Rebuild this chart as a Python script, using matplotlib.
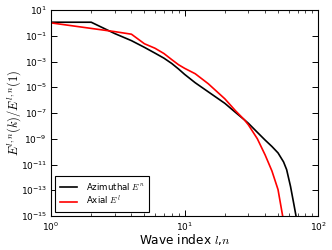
import numpy as np
import matplotlib
matplotlib.use("Agg")
from matplotlib import pyplot as plt
from matplotlib import ticker

# wave index and log10 of normalised energy
l_azi = [1, 2, 3, 4, 5, 6, 7, 8, 9, 10, 12, 15, 20, 24, 28, 30, 35, 40, 45, 50, 55, 58, 62, 66, 69]
log_azi = [0.05, 0.05, -0.83, -1.38, -1.9, -2.35, -2.74, -3.15, -3.58, -4.0, -4.65, -5.35, -6.25,
           -6.95, -7.53, -7.8, -8.5, -9.1, -9.6, -10.1, -10.8, -11.4, -12.7, -14.2, -15.3]

l_axi = [1, 2, 3, 4, 5, 6, 7, 8, 9, 10, 12, 15, 20, 24, 28, 30, 35, 40, 45, 50, 55]
log_axi = [0.0, -0.43, -0.68, -0.88, -1.62, -1.97, -2.38, -2.85, -3.25, -3.53, -3.95, -4.72,
           -5.9, -6.82, -7.53, -7.92, -9.0, -10.25, -11.5, -12.95, -15.4]

plt.rcParams['font.family'] = ['DejaVu Sans']
plt.rcParams['xtick.direction'] = 'in'
plt.rcParams['ytick.direction'] = 'in'
plt.rcParams['xtick.top'] = True
plt.rcParams['ytick.right'] = True

fig = plt.figure(figsize=(3.32, 2.5), dpi=100)
ax = fig.add_axes([0.1536, 0.136, 0.805, 0.824])

ax.plot(l_azi, 10.0 ** np.array(log_azi), color='k', lw=1.2, label=r'Azimuthal $E^n$')
ax.plot(l_axi, 10.0 ** np.array(log_axi), color='r', lw=1.2, label=r'Axial $E^l$')

ax.set_xscale('log')
ax.set_yscale('log')
ax.set_xlim(1, 100)
ax.set_ylim(1e-15, 1e1)
ax.set_yticks([10.0 ** k for k in range(1, -16, -2)])
ax.yaxis.set_minor_locator(ticker.NullLocator())
ax.tick_params(labelsize=6.5, length=4, width=0.7, pad=3)
ax.tick_params(which='minor', length=2, width=0.5)

xl = ax.set_xlabel(r'Wave index $l$,$n$', fontsize=8.7, labelpad=-0.3)
yl = ax.set_ylabel(r'$E^{l,n}(k)/E^{l,n}(1)$', fontsize=9, labelpad=-2)
xl.set_math_fontfamily('cm')
yl.set_math_fontfamily('cm')

leg = ax.legend(loc='lower left', fontsize=6.2, fancybox=False, framealpha=1,
                edgecolor='k', handlelength=2.0, handletextpad=1.1,
                borderpad=0.5, labelspacing=0.3, borderaxespad=0.5)
leg.get_frame().set_linewidth(0.8)
for t in leg.get_texts():
    t.set_math_fontfamily('cm')

fig.savefig('out.png', dpi=100)
